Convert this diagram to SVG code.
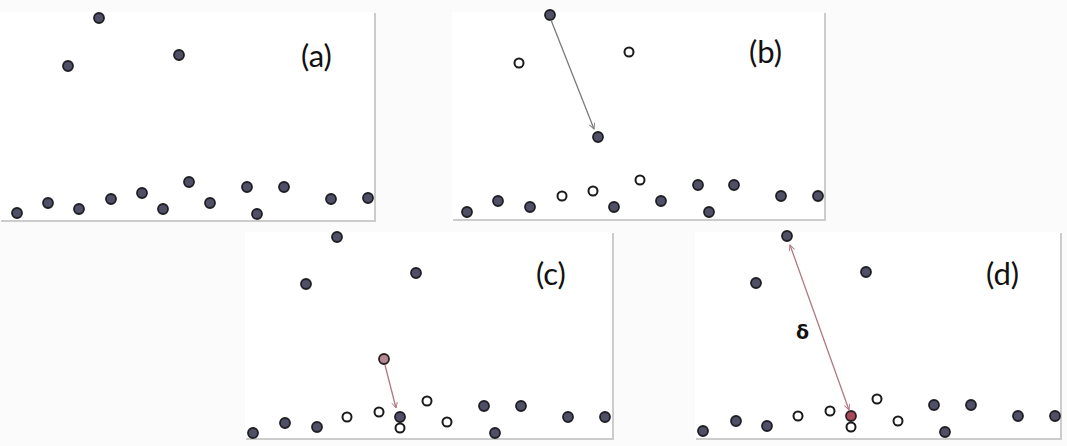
<svg xmlns="http://www.w3.org/2000/svg" width="1067" height="446" viewBox="0 0 1067 446">
<style>
.bg{fill:#fbfbfb}
.panel{fill:#ffffff;stroke:none}
.sh{fill:none;stroke:#cccccc;stroke-width:2}
.f{fill:#4f4f66;stroke:#1e1e24;stroke-width:1.8}
.o{fill:#ffffff;stroke:#1a1a1a;stroke-width:2}
.pk{fill:#b48890;stroke:#2a2024;stroke-width:1.8}
.rd{fill:#a8485a;stroke:#2a2024;stroke-width:1.8}
.lbl{font-family:Lato,"Open Sans","Liberation Sans",sans-serif;font-size:31px;fill:#111}
.dl{font-family:"DejaVu Sans","Liberation Sans",sans-serif;font-size:19px;font-weight:bold;fill:#111}
.ag{stroke:#7a7a7a;stroke-width:1.3;fill:none}
.ar{stroke:#b07882;stroke-width:1.3;fill:none}
</style>
<defs>
<marker id="hg" viewBox="0 0 10 10" refX="9" refY="5" markerWidth="7" markerHeight="7" orient="auto-start-reverse" markerUnits="userSpaceOnUse"><path d="M1,1 L9,5 L1,9" fill="none" stroke="#7a7a7a" stroke-width="1.3"/></marker>
<marker id="hr" viewBox="0 0 10 10" refX="9" refY="5" markerWidth="7" markerHeight="7" orient="auto-start-reverse" markerUnits="userSpaceOnUse"><path d="M1,1 L9,5 L1,9" fill="none" stroke="#b07882" stroke-width="1.3"/></marker>
</defs>
<rect class="bg" x="0" y="0" width="1067" height="446"/>

<g id="panel-a">
<rect class="panel" x="0" y="12" width="374" height="208"/>
<path class="sh" d="M375,13 V221 H1"/>
<text class="lbl" x="301" y="67">(a)</text>
<circle class="f" cx="99" cy="18" r="5"/>
<circle class="f" cx="68" cy="66" r="5"/>
<circle class="f" cx="179" cy="55" r="5"/>
<circle class="f" cx="17" cy="213" r="5"/>
<circle class="f" cx="48" cy="203" r="5"/>
<circle class="f" cx="79" cy="209" r="5"/>
<circle class="f" cx="111" cy="199" r="5"/>
<circle class="f" cx="142" cy="193" r="5"/>
<circle class="f" cx="163" cy="209" r="5"/>
<circle class="f" cx="189" cy="182" r="5"/>
<circle class="f" cx="210" cy="203" r="5"/>
<circle class="f" cx="247" cy="187" r="5"/>
<circle class="f" cx="257" cy="214" r="5"/>
<circle class="f" cx="284" cy="187" r="5"/>
<circle class="f" cx="331" cy="199" r="5"/>
<circle class="f" cx="368" cy="198" r="5"/>
</g>

<g id="panel-b">
<rect class="panel" x="452" y="12" width="372" height="207"/>
<path class="sh" d="M825,13 V220 H453"/>
<text class="lbl" x="749" y="63">(b)</text>
<circle class="f" cx="550" cy="15" r="5"/>
<circle class="o" cx="519" cy="63" r="4.5"/>
<circle class="o" cx="629" cy="52" r="4.5"/>
<circle class="f" cx="598" cy="137" r="5"/>
<circle class="f" cx="467" cy="212" r="5"/>
<circle class="f" cx="498" cy="201" r="5"/>
<circle class="f" cx="530" cy="207" r="5"/>
<circle class="o" cx="562" cy="196" r="4.5"/>
<circle class="o" cx="593" cy="191" r="4.5"/>
<circle class="f" cx="614" cy="207" r="5"/>
<circle class="o" cx="640" cy="180" r="4.5"/>
<circle class="f" cx="661" cy="201" r="5"/>
<circle class="f" cx="698" cy="185" r="5"/>
<circle class="f" cx="709" cy="212" r="5"/>
<circle class="f" cx="734" cy="185" r="5"/>
<circle class="f" cx="781" cy="196" r="5"/>
<circle class="f" cx="818" cy="196" r="5"/>
</g>

<g id="panel-c">
<rect class="panel" x="245" y="232" width="367" height="206"/>
<path class="sh" d="M613,233 V439 H246"/>
<text class="lbl" x="536" y="285">(c)</text>
<circle class="f" cx="337" cy="237" r="5"/>
<circle class="f" cx="306" cy="284" r="5"/>
<circle class="f" cx="416" cy="273" r="5"/>
<circle class="pk" cx="384" cy="359" r="5"/>
<circle class="f" cx="253" cy="433" r="5"/>
<circle class="f" cx="285" cy="423" r="5"/>
<circle class="f" cx="317" cy="427" r="5"/>
<circle class="o" cx="347" cy="417" r="4.5"/>
<circle class="o" cx="379" cy="412" r="4.5"/>
<circle class="f" cx="400" cy="417" r="5"/>
<circle class="o" cx="400" cy="428" r="4.5"/>
<circle class="o" cx="427" cy="401" r="4.5"/>
<circle class="o" cx="447" cy="422" r="4.5"/>
<circle class="f" cx="484" cy="406" r="5"/>
<circle class="f" cx="495" cy="433" r="5"/>
<circle class="f" cx="521" cy="406" r="5"/>
<circle class="f" cx="568" cy="417" r="5"/>
<circle class="f" cx="605" cy="417" r="5"/>
</g>

<g id="panel-d">
<rect class="panel" x="695" y="232" width="365" height="206"/>
<path class="sh" d="M1061,233 V439 H696"/>
<text class="lbl" x="986" y="285">(d)</text>
<text class="dl" x="796" y="339">δ</text>
<circle class="f" cx="787" cy="236" r="5"/>
<circle class="f" cx="756" cy="283" r="5"/>
<circle class="f" cx="866" cy="272" r="5"/>
<circle class="f" cx="703" cy="431" r="5"/>
<circle class="f" cx="736" cy="421" r="5"/>
<circle class="f" cx="767" cy="426" r="5"/>
<circle class="o" cx="798" cy="416" r="4.5"/>
<circle class="o" cx="830" cy="411" r="4.5"/>
<circle class="rd" cx="851" cy="416" r="5"/>
<circle class="o" cx="851" cy="427" r="4.5"/>
<circle class="o" cx="877" cy="399" r="4.5"/>
<circle class="o" cx="898" cy="421" r="4.5"/>
<circle class="f" cx="934" cy="405" r="5"/>
<circle class="f" cx="945" cy="432" r="5"/>
<circle class="f" cx="971" cy="405" r="5"/>
<circle class="f" cx="1018" cy="416" r="5"/>
<circle class="f" cx="1055" cy="416" r="5"/>
</g>

<g id="connectors">
<line class="ag" x1="551" y1="20" x2="594" y2="129" marker-end="url(#hg)"/>
<line class="ar" x1="385" y1="365" x2="396" y2="408" marker-end="url(#hr)"/>
<line class="ar" x1="790" y1="245" x2="849" y2="410" marker-start="url(#hr)" marker-end="url(#hr)"/>
</g>
</svg>
